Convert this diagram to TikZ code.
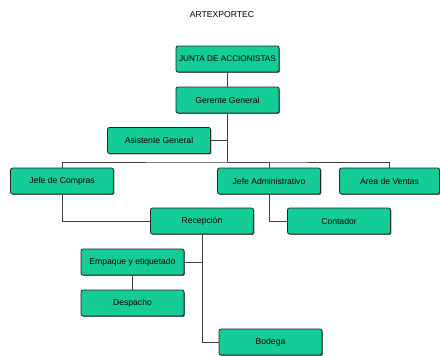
\documentclass[tikz,border=0pt]{standalone}
\usepackage{fontspec}
\setmainfont{Liberation Sans}
\usetikzlibrary{shadows}

\definecolor{boxgreen}{RGB}{20,204,150}

\begin{document}
\begin{tikzpicture}[x=1pt, y=-1pt,
  box/.style={draw=black!85, fill=boxgreen, rounded corners=2pt, line width=0.8pt,
    minimum width=103pt, minimum height=26pt, inner sep=0pt,
    font=\fontsize{8.6}{10}\selectfont,
    drop shadow={shadow xshift=0.9pt, shadow yshift=-0.9pt, fill=black!60, opacity=1}},
  link/.style={draw=black!75, line width=0.8pt}]
\useasboundingbox (0,0) rectangle (440,356);
\node[font=\fontsize{8.6}{10}\selectfont] (t) at (222,15) {ARTEXPORTEC};
\node[box, font=\fontsize{8.2}{10}\selectfont] (jac) at (227.5,59) {JUNTA DE ACCIONISTAS};
\node[box] (gg) at (227.5,100) {Gerente General};
\node[box] (ag) at (159,140.5) {Asistente General};
\node[box] (jc) at (62,181) {Jefe de Compras};
\node[box] (ja) at (269,181) {Jefe Administrativo};
\node[box, minimum width=100pt] (av) at (389.5,181) {Área de Ventas};
\node[box] (rec) at (202,221) {Recepción};
\node[box] (con) at (339,221) {Contador};
\node[box] (emp) at (132.5,262) {Empaque y etiquetado};
\node[box] (des) at (132.5,303) {Despacho};
\node[box] (bod) at (270.5,342) {Bodega};
\coordinate (bus) at (227.5,162);
\draw[link] (jac) -- (gg);
\draw[link] (gg) -- (bus);
\draw[link] (ag) -- (ag -| bus);
\draw[link] (jc) |- (bus) -| (av);
\draw[link] (bus) -| (ja);
\draw[link] (jc) |- (rec);
\draw[link] (ja) |- (con);
\draw[link] (rec) |- (bod);
\draw[link] (emp) -- (emp -| rec);
\draw[link] (emp) -- (des);
\end{tikzpicture}
\end{document}
